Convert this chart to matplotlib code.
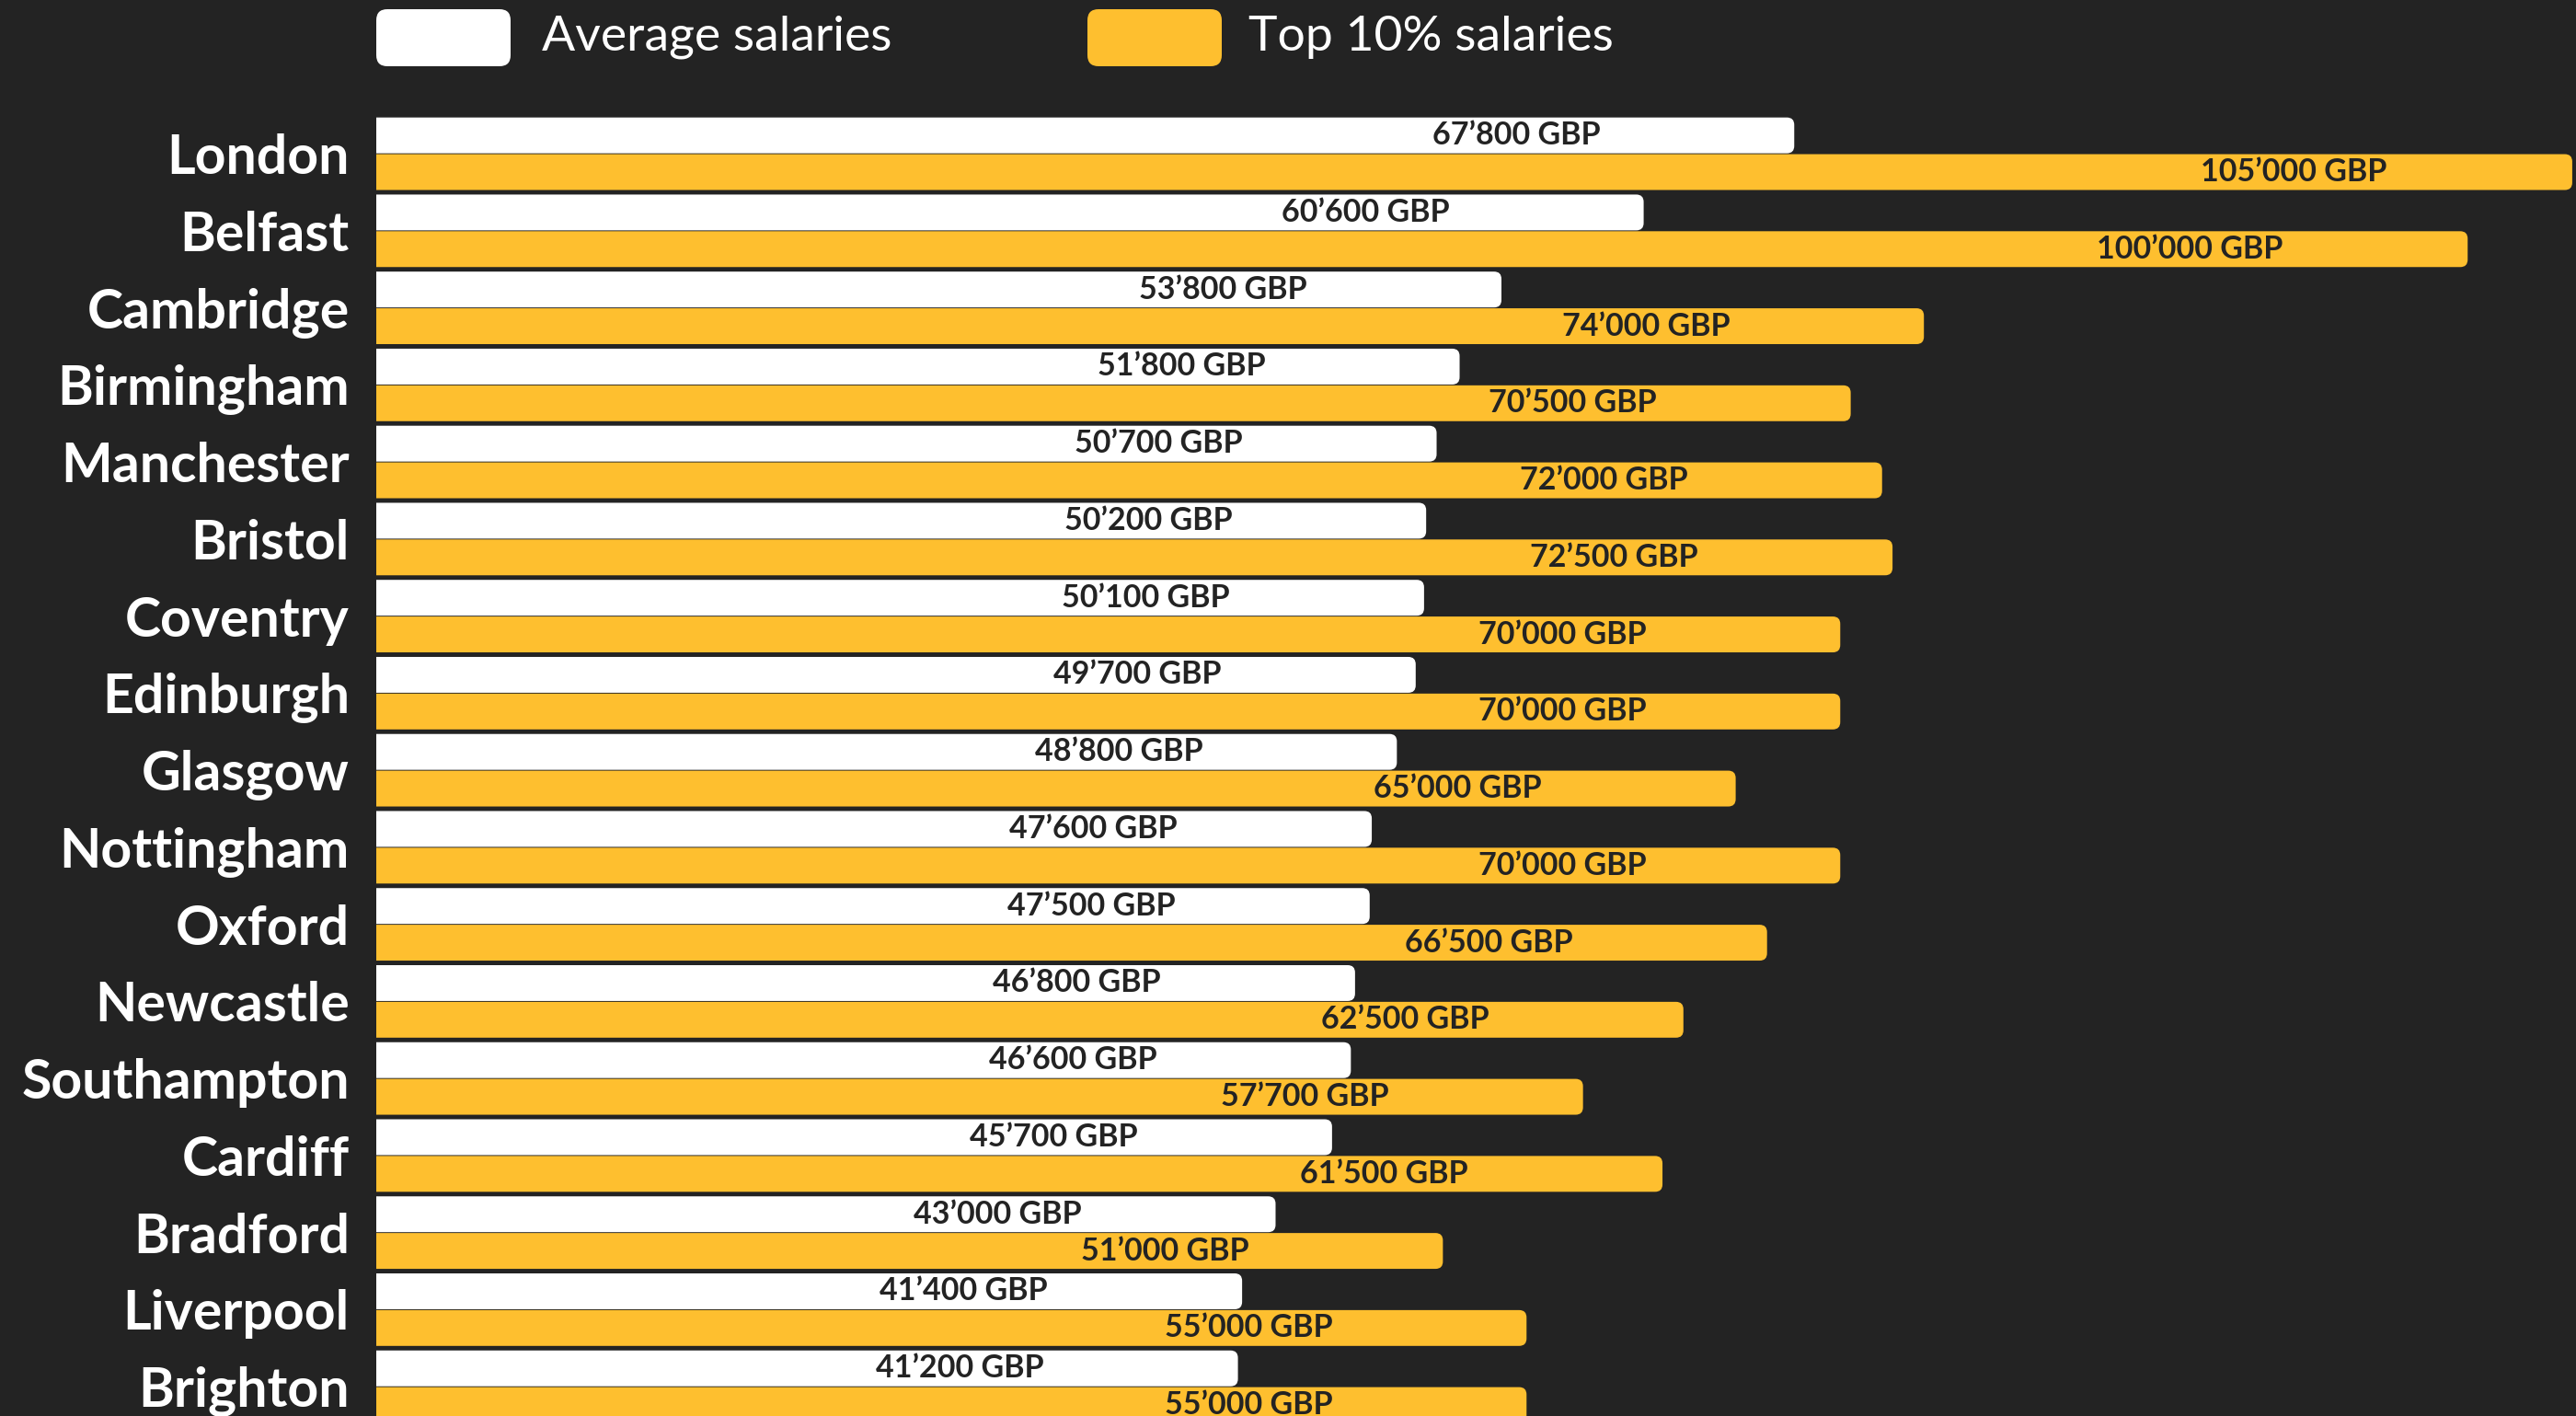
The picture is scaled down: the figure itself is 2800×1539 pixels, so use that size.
import matplotlib
matplotlib.use("Agg")
import matplotlib.pyplot as plt
from matplotlib.patches import FancyBboxPatch

cities = ["London", "Belfast", "Cambridge", "Birmingham", "Manchester", "Bristol",
          "Coventry", "Edinburgh", "Glasgow", "Nottingham", "Oxford", "Newcastle",
          "Southampton", "Cardiff", "Bradford", "Liverpool", "Brighton"]
average = [67800, 60600, 53800, 51800, 50700, 50200, 50100, 49700, 48800,
           47600, 47500, 46800, 46600, 45700, 43000, 41400, 41200]
top10 = [105000, 100000, 74000, 70500, 72000, 72500, 70000, 70000, 65000,
         70000, 66500, 62500, 57700, 61500, 51000, 55000, 55000]

BG = "#232323"
YELLOW = "#FEBF2F"
WHITE = "#FFFFFF"
DARK = "#232323"

plt.rcParams['font.family'] = ['Lato', 'DejaVu Sans']

W, H = 2800, 1539
fig = plt.figure(figsize=(W / 100, H / 100), dpi=100, facecolor=BG)

x0 = 409
ax = fig.add_axes([x0 / W, 0, 1 - x0 / W, 1])
ax.set_facecolor(BG)
xmax = 105180
ymin, ymax = -1.995, 16.38
ax.set_xlim(0, xmax)
ax.set_ylim(ymax, ymin)

# pixel scale in each direction, for rounded bar ends
px_x = (W - x0) / xmax
px_y = H / (ymax - ymin)
radius_px = 8
h = 0.465
off = 0.238

def rounded_bar(y, value, color):
    start = -2000  # left corners hidden outside the axes
    box = FancyBboxPatch((start, y - h / 2), value - start, h,
                         boxstyle=f"round,pad=0,rounding_size={radius_px / px_x}",
                         mutation_aspect=px_x / px_y,
                         facecolor=color, edgecolor="none", clip_on=True)
    ax.add_patch(box)

def fmt(v):
    return f"{v // 1000}\u2019{v % 1000:03d} GBP"

for i in range(len(cities)):
    rounded_bar(i - off, average[i], WHITE)
    rounded_bar(i + off, top10[i], YELLOW)
    ax.text(average[i] - 13300, i - off, fmt(average[i]), ha="center",
            va="center", fontsize=24.5, fontweight="bold", color=DARK)
    ax.text(top10[i] - 13300, i + off, fmt(top10[i]), ha="center",
            va="center", fontsize=24.5, fontweight="bold", color=DARK)

ax.set_yticks(range(len(cities)))
ax.set_yticklabels(cities, fontsize=42.5, fontweight="bold", color="white")
ax.tick_params(axis="y", length=0, pad=21)
ax.set_xticks([])
for s in ax.spines.values():
    s.set_visible(False)

# legend
def legend_box(xa, xb, color):
    fig.patches.append(FancyBboxPatch((xa / W, 1 - 72 / H), (xb - xa) / W, 62 / H,
                                      boxstyle=f"round,pad=0,rounding_size={12 / W}",
                                      mutation_aspect=W / H,
                                      transform=fig.transFigure,
                                      facecolor=color, edgecolor="none"))

legend_box(409, 555, WHITE)
legend_box(1182, 1328, YELLOW)
fig.text(589 / W, 1 - 40 / H, "Average salaries", fontsize=38.5, color="white",
         va="center", ha="left")
fig.text(1357 / W, 1 - 40 / H, "Top 10% salaries", fontsize=38.5, color="white",
         va="center", ha="left")

fig.savefig("out.png", dpi=100, facecolor=BG)
